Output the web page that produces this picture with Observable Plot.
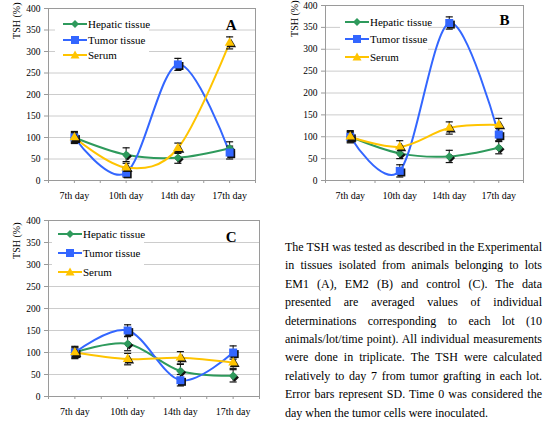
<!DOCTYPE html>
<html>
<head>
<meta charset="utf-8">
<script src="https://cdn.jsdelivr.net/npm/d3@7"></script>
<script src="https://cdn.jsdelivr.net/npm/@observablehq/plot@0.6"></script>
<style>
  body { margin: 0; background: #fff; }
  #fig { position: relative; width: 550px; height: 421px; overflow: hidden;
         font-family: "Liberation Serif", "Times New Roman", serif; color: #000; }
  .panel { position: absolute; }
  .legend { position: absolute; background: #fff; font-size: 11px; }
  .legend .row { position: absolute; display: flex; align-items: center; white-space: nowrap; }
  .legend svg { display: block; margin-right: 1px; }
  #caption { position: absolute; left: 285px; top: 238px; width: 257px;
             font-size: 12px; line-height: 18.4px; }
  #caption div { text-align: justify; text-align-last: justify; white-space: nowrap; }
  #caption div:last-child { text-align-last: left; }
</style>
</head>
<body>
<div id="fig"></div>
<script>
const DAYS = ["7th day", "10th day", "14th day", "17th day"];
const SERIES = ["Hepatic tissue", "Tumor tissue", "Serum"];
const Y_TICKS = [0, 50, 100, 150, 200, 250, 300, 350, 400];

// lot EM1 (A)
const A_HEPATIC = [100, 60, 53, 75];
const A_HEPATIC_SD = [14, 16, 13, 15];
const A_TUMOR = [100, 18, 270, 65];
const A_TUMOR_SD = [10, 10, 14, 15];
const A_SERUM = [100, 30, 75, 320];
const A_SERUM_SD = [12, 10, 12, 14];

// lot EM2 (B)
const B_HEPATIC = [100, 62, 55, 75];
const B_HEPATIC_SD = [14, 12, 14, 14];
const B_TUMOR = [100, 22, 360, 105];
const B_TUMOR_SD = [10, 14, 14, 14];
const B_SERUM = [100, 77, 120, 127];
const B_SERUM_SD = [12, 14, 14, 15];

// control (C)
const C_HEPATIC = [100, 120, 58, 47];
const C_HEPATIC_SD = [14, 16, 15, 14];
const C_TUMOR = [100, 150, 37, 100];
const C_TUMOR_SD = [10, 13, 13, 15];
const C_SERUM = [100, 85, 88, 77];
const C_SERUM_SD = [12, 13, 14, 13];

const CAPTION = [
  "The TSH was tested as described in the Experimental",
  "in tissues isolated from animals belonging to lots",
  "EM1 (A), EM2 (B) and control (C). The data",
  "presented are averaged values of individual",
  "determinations corresponding to each lot (10",
  "animals/lot/time point). All individual measurements",
  "were done in triplicate. The TSH were calculated",
  "relatively to day 7 from tumor grafting in each lot.",
  "Error bars represent SD. Time 0 was considered the",
  "day when the tumor cells were inoculated."
];

const FONT = '"Liberation Serif", "Times New Roman", serif';
const COLORS = { "Hepatic tissue": "#2e9a5c", "Tumor tissue": "#3366ff", "Serum": "#ffc400" };
const SYMBOLS = { "Hepatic tissue": "diamond2", "Tumor tissue": "square", "Serum": "triangle" };
const RADIUS = { "Hepatic tissue": 3.8, "Tumor tissue": 4.5, "Serum": 3.6 };

const PANELS = [
  { letter: "A", series: [[A_HEPATIC, A_HEPATIC_SD], [A_TUMOR, A_TUMOR_SD], [A_SERUM, A_SERUM_SD]],
    left: 0, top: 0, width: 275, height: 210, m: [8, 20, 30, 48],
    letterD: [-19, 11], labelD: [-36, -6],
    legend: { left: 55, top: 13, w: 94, h: 50, lineX: 8, rows: [11, 27, 42] } },
  { letter: "B", series: [[B_HEPATIC, B_HEPATIC_SD], [B_TUMOR, B_TUMOR_SD], [B_SERUM, B_SERUM_SD]],
    left: 275, top: 0, width: 275, height: 210, m: [5, 27, 30, 50],
    letterD: [-14, 9], labelD: [-35, -5],
    legend: { left: 340, top: 8, w: 88, h: 58, lineX: 5, rows: [14, 31, 49] } },
  { letter: "C", series: [[C_HEPATIC, C_HEPATIC_SD], [C_TUMOR, C_TUMOR_SD], [C_SERUM, C_SERUM_SD]],
    left: 0, top: 210, width: 275, height: 211, m: [10, 16, 25, 48],
    letterD: [-23, 11], labelD: [-36, 2],
    legend: { left: 52, top: 223, w: 92, h: 58, lineX: 6, rows: [11, 30, 49] } }
];

// horizontal cap for the error bars
const cap = { draw(ctx, size) { const w = Math.sqrt(size); ctx.moveTo(-w, 0); ctx.lineTo(w, 0); } };

function rows(p) {
  const out = [];
  p.series.forEach(([vals, sd], s) => {
    vals.forEach((v, i) => out.push({ serie: SERIES[s], i, v, lo: v - sd[i], hi: v + sd[i] }));
  });
  return out;
}

function panel(p) {
  const data = rows(p);
  const [mt, mr, mb, ml] = p.m;
  const fill = (d) => COLORS[d.serie];
  const dotMarks = [];
  for (const s of SERIES) {
    const sd = data.filter((d) => d.serie === s);
    dotMarks.push(Plot.dot(sd, { x: "i", y: "v", symbol: SYMBOLS[s], r: RADIUS[s],
      fill: "#111", dx: 1.6, dy: 1.6 }));
    dotMarks.push(Plot.dot(sd, { x: "i", y: "v", symbol: SYMBOLS[s], r: RADIUS[s],
      fill: COLORS[s] }));
  }
  return Plot.plot({
    width: p.width, height: p.height,
    marginTop: mt, marginRight: mr, marginBottom: mb, marginLeft: ml,
    style: { background: "transparent", fontFamily: FONT, overflow: "visible" },
    x: { domain: [-0.5, 3.5] },
    y: { domain: [0, 400] },
    marks: [
      Plot.gridY(Y_TICKS, { stroke: "#cccccc", strokeOpacity: 1 }),
      Plot.frame({ stroke: "#9a9a9a" }),
      Plot.axisY(Y_TICKS, { tickSize: 4, tickPadding: 4, fontSize: 9.5, fontFamily: FONT,
        stroke: "#9a9a9a", label: null, tickFormat: (d) => d }),
      Plot.axisX(d3.range(-0.5, 3.6, 0.5), { tickSize: 3, tickFormat: () => "", stroke: "#9a9a9a", label: null }),
      Plot.axisX([0, 1, 2, 3], { tickSize: 0, tickPadding: 11, fontSize: 10, fontFamily: FONT,
        label: null, tickFormat: (i) => DAYS[i] }),
      Plot.text(["TSH (%)"], { frameAnchor: "top-left", rotate: -90, textAnchor: "end",
        dx: p.labelD[0], dy: p.labelD[1], fontSize: 10, fontFamily: FONT }),
      Plot.text([p.letter], { frameAnchor: "top-right", dx: p.letterD[0], dy: p.letterD[1],
        fontSize: 15, fontWeight: "bold", fontFamily: FONT }),
      Plot.line(data, { x: "i", y: "v", z: "serie", stroke: fill, strokeWidth: 2,
        curve: "cardinal", tension: 0 }),
      Plot.ruleX(data, { x: "i", y1: "lo", y2: "hi", stroke: "#111", strokeWidth: 1 }),
      Plot.dot(data, { x: "i", y: "hi", symbol: cap, r: 2, stroke: "#111", strokeWidth: 1.2 }),
      Plot.dot(data, { x: "i", y: "lo", symbol: cap, r: 2, stroke: "#111", strokeWidth: 1.2 }),
      ...dotMarks
    ]
  });
}

function swatch(s) {
  const c = COLORS[s];
  let mk;
  if (s === "Hepatic tissue") mk = `<polygon points="12,2 16,6 12,10 8,6" fill="${c}"/>`;
  else if (s === "Tumor tissue") mk = `<rect x="8" y="2" width="8" height="8" fill="${c}"/>`;
  else mk = `<polygon points="12,1.5 16.5,9.5 7.5,9.5" fill="${c}"/>`;
  return `<svg width="24" height="12"><line x1="0" x2="24" y1="6" y2="6" stroke="${c}" stroke-width="2"/>${mk}</svg>`;
}

function legend(p) {
  const L = p.legend;
  const div = document.createElement("div");
  div.className = "legend";
  Object.assign(div.style, { left: L.left + "px", top: L.top + "px", width: L.w + "px", height: L.h + "px" });
  div.innerHTML = SERIES.map((s, k) =>
    `<div class="row" style="left:${L.lineX}px;top:${L.rows[k] - 6}px;height:12px">${swatch(s)}<span>${s}</span></div>`
  ).join("");
  return div;
}

const fig = document.getElementById("fig");
for (const p of PANELS) {
  const holder = document.createElement("div");
  holder.className = "panel";
  Object.assign(holder.style, { left: p.left + "px", top: p.top + "px" });
  holder.appendChild(panel(p));
  fig.appendChild(holder);
  fig.appendChild(legend(p));
}

const capt = document.createElement("div");
capt.id = "caption";
capt.innerHTML = CAPTION.map((l) => `<div>${l}</div>`).join("");
fig.appendChild(capt);
</script>
</body>
</html>
